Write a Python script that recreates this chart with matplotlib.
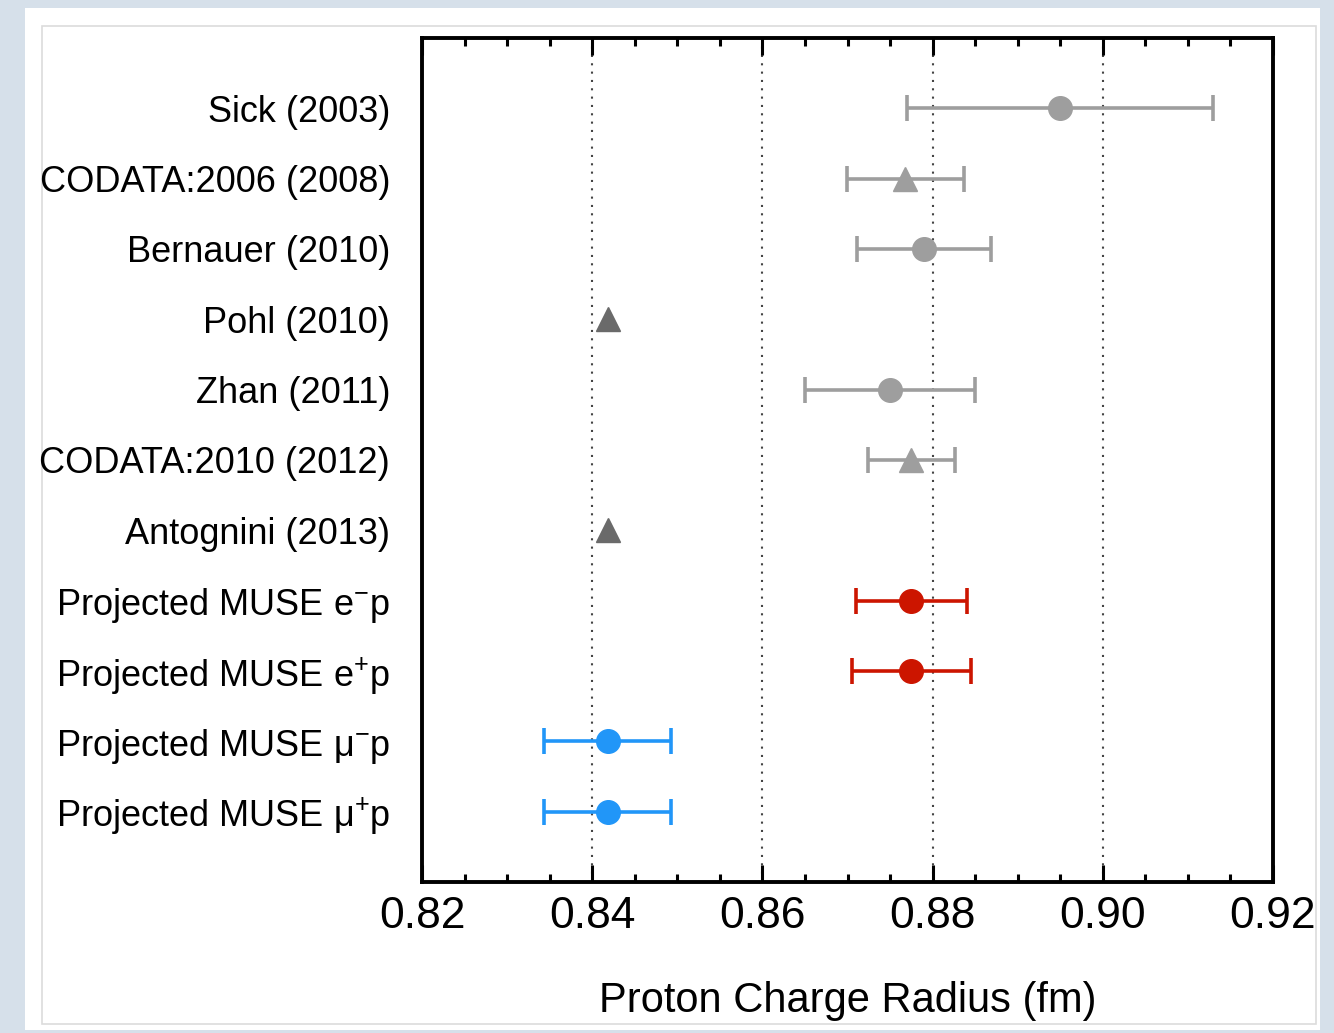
import matplotlib
matplotlib.use("Agg")
import matplotlib.pyplot as plt
from matplotlib import font_manager
from matplotlib.patches import Rectangle
from matplotlib.ticker import MultipleLocator, FormatStrFormatter

names = sorted(set(f.name for f in font_manager.fontManager.ttflist))
main_font = 'Liberation Sans Narrow' if 'Liberation Sans Narrow' in names else 'Liberation Sans'

plt.rcParams['font.family'] = [main_font, 'DejaVu Sans']
plt.rcParams['mathtext.fontset'] = 'custom'
plt.rcParams['mathtext.rm'] = main_font
plt.rcParams['mathtext.it'] = main_font

# measurements, top to bottom
labels = ["Sick (2003)", "CODATA:2006 (2008)", "Bernauer (2010)", "Pohl (2010)",
          "Zhan (2011)", "CODATA:2010 (2012)", "Antognini (2013)",
          "Projected MUSE e$^{-}$p", "Projected MUSE e$^{+}$p",
          "Projected MUSE \u03bc$^{-}$p", "Projected MUSE \u03bc$^{+}$p"]
radius = [0.895, 0.8768, 0.879, 0.8418, 0.875, 0.8775, 0.8418,
          0.8775, 0.8775, 0.8418, 0.8418]
err = [0.018, 0.0069, 0.0079, 0.0, 0.010, 0.0051, 0.0,
       0.0065, 0.007, 0.0075, 0.0075]
markers = ['o', '^', 'o', '^', 'o', '^', '^', 'o', 'o', 'o', 'o']
colors = ['#9e9e9e', '#9e9e9e', '#9e9e9e', '#6a6a6a', '#9e9e9e', '#9e9e9e', '#6a6a6a',
          '#cc1500', '#cc1500', '#2196f8', '#2196f8']

fig = plt.figure(figsize=(13.34, 10.33), dpi=100)
fig.patch.set_facecolor('#d6e0ea')
W, H = 1334.0, 1033.0
fig.patches.append(Rectangle((25/W, 1-1030/H), 1295/W, 1022/H, transform=fig.transFigure,
                             facecolor='white', edgecolor='none', zorder=-2))
fig.patches.append(Rectangle((42/W, 1-1024/H), 1274/W, 998/H, transform=fig.transFigure,
                             facecolor='none', edgecolor='#dcdcdc', lw=1.2, zorder=-1))

ax = fig.add_axes([422/W, 1-882/H, (1273-422)/W, (882-38)/H])
ax.set_facecolor('white')
ax.set_zorder(1)

ypos = list(range(len(labels)))
for i in ypos:
    if err[i] > 0:
        ax.errorbar(radius[i], i, xerr=err[i], fmt=markers[i], color=colors[i],
                    ms=17, elinewidth=2.6, capsize=9.5, capthick=2.6, zorder=3)
    else:
        ax.plot(radius[i], i, markers[i], color=colors[i], ms=17, zorder=3)

ax.set_xlim(0.82, 0.92)
ax.set_ylim(len(labels), -1)
ax.set_yticks(ypos)
ax.set_yticklabels(labels, fontsize=26)
ax.tick_params(axis='y', length=0, pad=23)

ax.xaxis.set_major_locator(MultipleLocator(0.02))
ax.xaxis.set_minor_locator(MultipleLocator(0.005))
ax.xaxis.set_major_formatter(FormatStrFormatter('%.2f'))
ax.tick_params(axis='x', which='major', direction='in', length=12, width=2.2,
               top=True, labelsize=32, pad=10)
ax.tick_params(axis='x', which='minor', direction='in', length=6, width=2.2, top=True)

for x in [0.84, 0.86, 0.88, 0.90]:
    ax.axvline(x, color='#444444', lw=1.5, ls=(0, (1, 3)), zorder=1)

for s in ax.spines.values():
    s.set_linewidth(2.8)

ax.set_xlabel("Proton Charge Radius (fm)", fontsize=30, labelpad=32)

fig.savefig("out.png", dpi=100, facecolor=fig.get_facecolor())
